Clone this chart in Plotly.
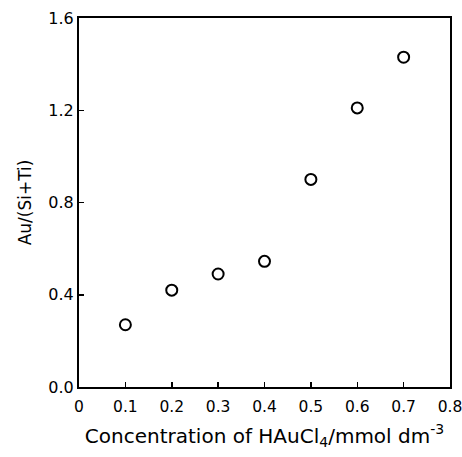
import plotly.graph_objects as go

concentration = [0.1, 0.2, 0.3, 0.4, 0.5, 0.6, 0.7]
au_ratio = [0.27, 0.42, 0.49, 0.545, 0.90, 1.21, 1.43]

x_ticks = [0, 0.1, 0.2, 0.3, 0.4, 0.5, 0.6, 0.7, 0.8]
x_tick_labels = ["0", "0.1", "0.2", "0.3", "0.4", "0.5", "0.6", "0.7", "0.8"]
y_ticks = [0.0, 0.4, 0.8, 1.2, 1.6]
y_tick_labels = ["0.0", "0.4", "0.8", "1.2", "1.6"]

font_family = "DejaVu Sans, Liberation Sans, Arial, sans-serif"

fig = go.Figure()
fig.add_trace(go.Scatter(
    x=concentration, y=au_ratio, mode="markers",
    marker=dict(symbol="circle-open", size=11, color="black", line=dict(width=2, color="black")),
    showlegend=False, hoverinfo="skip",
))

fig.update_layout(
    width=462, height=457,
    margin=dict(l=79, r=12, t=18, b=70),
    paper_bgcolor="white", plot_bgcolor="white",
    font=dict(family=font_family, size=16, color="black"),
    xaxis=dict(
        range=[0, 0.8], tickvals=x_ticks, ticktext=x_tick_labels,
        ticks="inside", ticklen=5, tickwidth=1.5, tickcolor="black",
        showline=True, linecolor="black", linewidth=2, mirror=True,
        showgrid=False, zeroline=False, automargin=False,
        ticklabeloverflow="allow", ticklabelstandoff=4,
        tickfont=dict(size=15.5),
        title=dict(text="Concentration of HAuCl<sub>4</sub>/mmol dm<sup>-3</sup>", font=dict(size=20), standoff=14),
    ),
    yaxis=dict(
        range=[0, 1.6], tickvals=y_ticks, ticktext=y_tick_labels,
        ticks="inside", ticklen=5, tickwidth=1.5, tickcolor="black",
        showline=True, linecolor="black", linewidth=2, mirror=True,
        showgrid=False, zeroline=False, automargin=False,
        ticklabeloverflow="allow",
        title=dict(text="Au/(Si+Ti)", font=dict(size=17), standoff=12),
    ),
)

# remove the browser's default body margin so the figure fills the window exactly
fig.write_html(
    "out.html",
    config={"displayModeBar": False, "staticPlot": True},
    post_script="document.body.style.margin='0';document.body.style.overflow='hidden';",
)
